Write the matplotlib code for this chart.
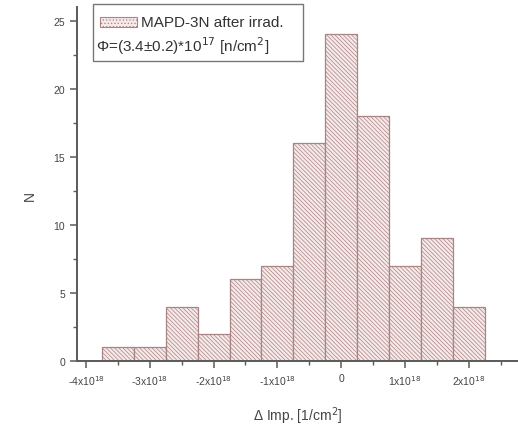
import matplotlib
matplotlib.use("Agg")
import matplotlib.pyplot as plt
from matplotlib.patches import Rectangle
import numpy as np

plt.rcParams['font.family'] = ['Liberation Sans', 'DejaVu Sans']
plt.rcParams['hatch.color'] = '#d4b4b4'
plt.rcParams['hatch.linewidth'] = 0.5

# Histogram of impurity deviation (units of 1e18 1/cm^2), bin width 0.5
bin_edges = [-3.75, -3.25, -2.75, -2.25, -1.75, -1.25, -0.75,
             -0.25, 0.25, 0.75, 1.25, 1.75, 2.25]
counts = [1, 1, 4, 2, 6, 7, 16, 24, 18, 7, 9, 4]
x_ticks = [-4, -3, -2, -1, 0, 1, 2]
x_tick_labels = ['-4x10$^{18}$', '-3x10$^{18}$', '-2x10$^{18}$', '-1x10$^{18}$',
                 '0', '1x10$^{18}$', '2x10$^{18}$']
y_ticks = [0, 5, 10, 15, 20, 25]
legend_lines = ['MAPD-3N after irrad.', 'Φ=(3.4±0.2)*10$^{17}$ [n/cm$^2$]']

W, H = 518, 427
fig = plt.figure(figsize=(W / 100, H / 100), dpi=100)
ax = fig.add_axes([77 / W, 65 / H, 441 / W, 354 / H])

fill = '#f7e9e9'
edge = '#a88484'
edges = np.array(bin_edges)
ax.bar(edges[:-1], counts, width=np.diff(edges), align='edge',
       color=fill, edgecolor=edge, linewidth=0.9, hatch='\\' * 8)

ax.set_xlim(-4.14, 2.77)
ax.set_ylim(0, 26)
ax.set_xticks(x_ticks)
ax.set_xticklabels(x_tick_labels)
ax.set_xticks(np.arange(-3.5, 2.6, 1.0), minor=True)
ax.set_yticks(y_ticks)
ax.set_yticks(np.arange(2.5, 26, 5), minor=True)

for s in ['top', 'right']:
    ax.spines[s].set_visible(False)
for s in ['left', 'bottom']:
    ax.spines[s].set_color('#5a5a5a')
    ax.spines[s].set_linewidth(1.4)

ax.tick_params(axis='both', which='major', direction='out', length=5,
               width=1.1, color='#5a5a5a', labelsize=7.5, labelcolor='#444444')
ax.tick_params(axis='both', which='minor', direction='out', length=3,
               width=1.0, color='#5a5a5a')

ax.set_xlabel('Δ Imp. [1/cm$^2$]', fontsize=10, color='#444444')
ax.xaxis.set_label_coords((298 - 77) / 441, -43 / 354)
ax.set_ylabel('N', fontsize=10, color='#444444')
ax.yaxis.set_label_coords(-40 / 441, 0.47)

# legend box drawn in figure pixel coordinates
def px(x, y):
    return x / W, 1 - y / H

x0, y0 = px(93, 62)
x1, y1 = px(303, 5)
fig.patches.append(Rectangle((x0, y0), x1 - x0, y1 - y0, transform=fig.transFigure,
                             facecolor='white', edgecolor='#777777', linewidth=1.0,
                             zorder=5))
px0, py0 = px(100, 28)
px1, py1 = px(137, 18)
fig.patches.append(Rectangle((px0, py0), px1 - px0, py1 - py0, transform=fig.transFigure,
                             facecolor=fill, edgecolor=edge, linewidth=0.8,
                             hatch='.....', zorder=6))
tx, ty = px(141, 23)
fig.text(tx, ty, legend_lines[0], fontsize=11, color='#333333',
         va='center', ha='left', zorder=7)
tx, ty = px(96, 46)
fig.text(tx, ty, legend_lines[1], fontsize=11, color='#333333',
         va='center', ha='left', zorder=7)

fig.savefig('out.png', dpi=100)
